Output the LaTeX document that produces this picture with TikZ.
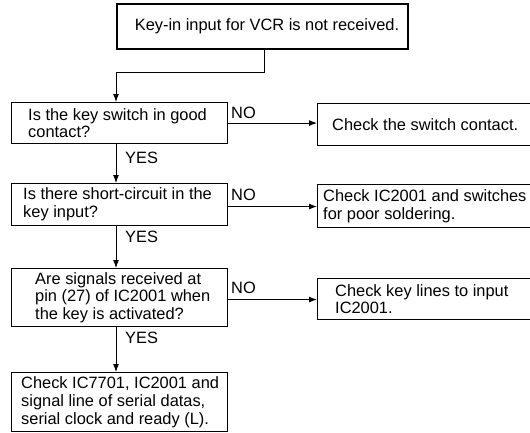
\documentclass[tikz,border=0pt]{standalone}
\usepackage{fontspec}
\setmainfont{Liberation Sans}
\usetikzlibrary{arrows.meta}
\tikzset{
  boxshape/.style={draw=black, line width=1.1pt, rectangle, inner sep=0pt, anchor=north west},
  topshape/.style={draw=black, line width=2pt, rectangle, inner sep=0pt},
  txt/.style={inner sep=0pt, align=left, anchor=west, font={\fontsize{16.4}{17.7}\selectfont}},
  lbl/.style={inner sep=0pt, anchor=west, font={\fontsize{16.4}{17.7}\selectfont}},
  conn/.style={line width=1pt, draw=black},
  arr/.style={conn, -{Latex[length=8pt,width=6pt]}}
}
\begin{document}
\begin{tikzpicture}[x=1pt,y=-1pt]
\useasboundingbox (0,0) rectangle (530,432);
% top box
\node[topshape, minimum width=291pt, minimum height=45pt] (T) at (262.5,26.5) {};
\node[txt, anchor=center] (Tt) at ([xshift=4.5pt]T.center) {Key-in input for VCR is not received.};
% left column
\node[boxshape, minimum width=216pt, minimum height=41pt] (B1) at (11,102) {};
\node[txt] (B1t) at ([xshift=17pt]B1.west) {Is the key switch in good\\contact?};
\node[boxshape, minimum width=216pt, minimum height=42pt] (B2) at (11,183) {};
\node[txt] (B2t) at ([xshift=12pt]B2.west) {Is there short-circuit in the\\key input?};
\node[boxshape, minimum width=216pt, minimum height=58pt] (B3) at (11,268) {};
\node[txt] (B3t) at ([xshift=24pt]B3.west) {Are signals received at\\pin (27) of IC2001 when\\the key is activated?};
\node[boxshape, minimum width=216pt, minimum height=59pt] (B4) at (11,372) {};
\node[txt] (B4t) at ([xshift=10pt]B4.west) {Check IC7701, IC2001 and\\signal line of serial datas,\\serial clock and ready (L).};
% right column
\node[boxshape, minimum width=215pt, minimum height=42pt] (R1) at (317,103) {};
\node[txt] (R1t) at ([xshift=15pt]R1.west) {Check the switch contact.};
\node[boxshape, minimum width=215pt, minimum height=43pt] (R2) at (317,184) {};
\node[txt] (R2t) at ([xshift=6pt]R2.west) {Check IC2001 and switches\\for poor soldering.};
\node[boxshape, minimum width=215pt, minimum height=41pt] (R3) at (317,278) {};
\node[txt] (R3t) at ([xshift=18pt]R3.west) {Check key lines to input\\IC2001.};
% connectors
\coordinate (j1) at (264,72);
\draw[arr] (T.south -| j1) -- (j1) -| (B1.north -| T.west);
\draw[arr] (B1.south -| T.west) -- (B2.north -| T.west);
\draw[arr] (B2.south -| T.west) -- (B3.north -| T.west);
\draw[arr] (B3.south -| T.west) -- (B4.north -| T.west);
\draw[arr] (B1.east) -- (B1.east -| R1.west);
\draw[arr] ([yshift=-2pt]B2.east) -- ([yshift=-2pt]B2.east -| R2.west);
\draw[arr] ([yshift=-2pt]B3.east) -- ([yshift=-2pt]B3.east -| R3.west);
% labels
\node[lbl] (no1) at (231,113) {NO};
\node[lbl] (no2) at (231,195) {NO};
\node[lbl] (no3) at (231,288) {NO};
\node[lbl] (yes1) at (125,158) {YES};
\node[lbl] (yes2) at (125,237) {YES};
\node[lbl] (yes3) at (125,338) {YES};
\end{tikzpicture}
\end{document}
